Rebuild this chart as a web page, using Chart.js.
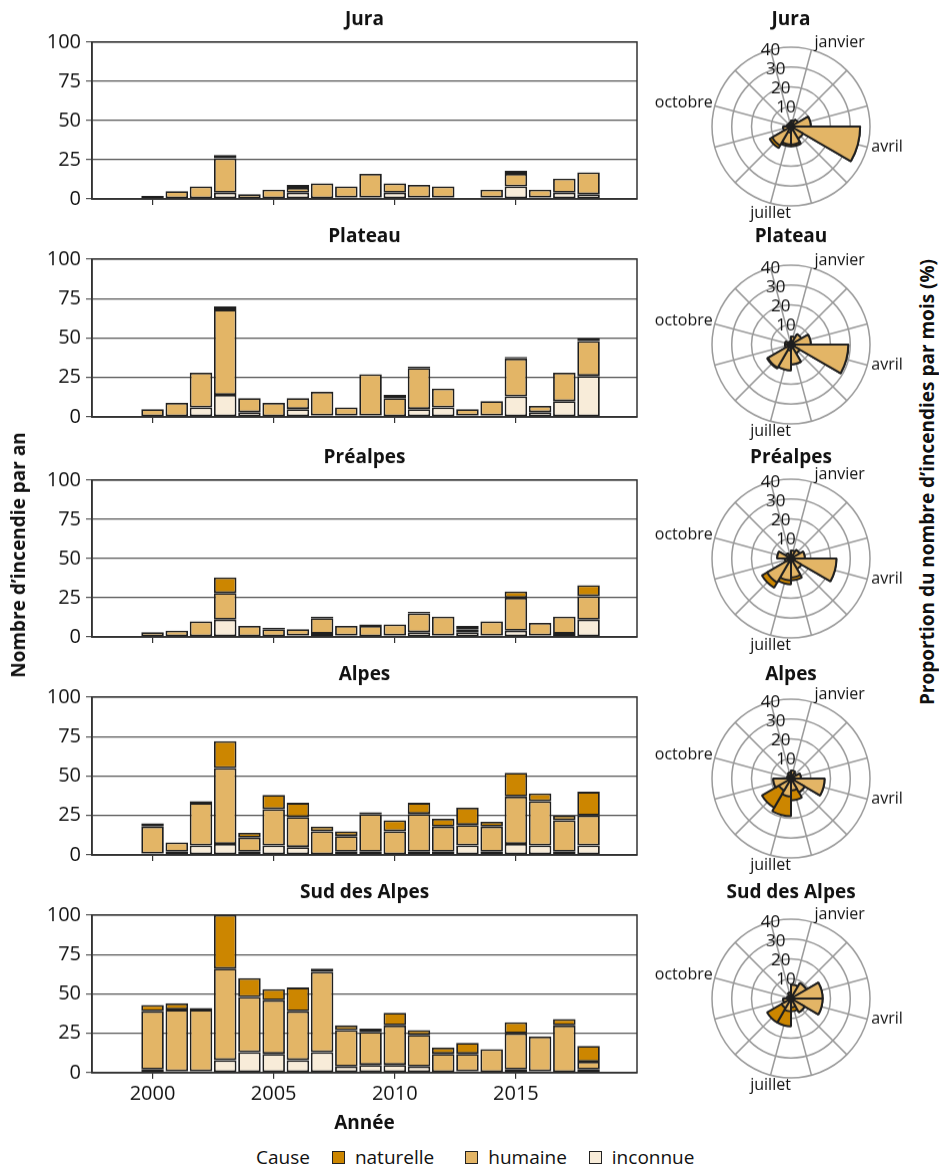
<!DOCTYPE html>
<html lang="fr">
<head>
<meta charset="utf-8">
<title>Incendies de forêt par région</title>
<script src="https://cdn.jsdelivr.net/npm/chart.js@4.4.1/dist/chart.umd.min.js"></script>
<style>
  body { margin: 0; background: #fff; }
  #page { position: relative; width: 939px; height: 1171px; overflow: hidden; font-family: "Open Sans", sans-serif; color: #111; }
  #page canvas { position: absolute; }
  .axisTitle { position: absolute; z-index: 2; font-weight: bold; font-size: 19px; white-space: nowrap; transform: translate(-50%, -50%) rotate(-90deg); }
  #legend { position: absolute; z-index: 2; left: 256px; top: 1144px; display: flex; align-items: center; font-size: 19px; }
  #legend .item { display: flex; align-items: center; margin-left: 22px; }
  #legend .box { width: 11px; height: 11px; border: 1.5px solid #222; margin-right: 10px; }
</style>
</head>
<body>
<div id="page">
  <div class="axisTitle" style="left:18px;top:555px">Nombre d’incendie par an</div>
  <div class="axisTitle" style="left:927px;top:482px">Proportion du nombre d’incendies par mois (%)</div>
  <div id="legend"><span>Cause</span></div>
</div>
<script>
// --- données ---
const years = [2000, 2001, 2002, 2003, 2004, 2005, 2006, 2007, 2008, 2009, 2010, 2011, 2012, 2013, 2014, 2015, 2016, 2017, 2018];
const xTicks = [2000, 2005, 2010, 2015];
const yTicks = [0, 25, 50, 75, 100];
const rTicks = [0, 10, 20, 30, 40];
const months = ["janvier", "février", "mars", "avril", "mai", "juin", "juillet", "août", "septembre", "octobre", "novembre", "décembre"];
const shownMonths = ["janvier", "avril", "juillet", "octobre"];
const regions = ["Jura", "Plateau", "Préalpes", "Alpes", "Sud des Alpes"];
const causes = ["naturelle", "humaine", "inconnue"];
const causeColors = ["#cc8600", "#e3b566", "#f8ecd9"];

// nombre d'incendies par an
const juraInconnue = [0, 0, 0, 4, 0, 0, 4, 0, 1, 1, 4, 1, 1, null, 1, 8, 1, 4, 3];
const juraHumaine = [2, 5, 8, 22, 3, 6, 3, 10, 7, 15, 6, 8, 7, null, 5, 8, 5, 9, 14];
const juraNaturelle = [0, 0, 0, 2, 0, 0, 2, 0, 0, 0, 0, 0, 0, null, 0, 2, 0, 0, 0];

const plateauInconnue = [0, 0, 6, 14, 3, 0, 5, 1, 1, 1, 0, 5, 6, 1, 1, 13, 3, 10, 26];
const plateauHumaine = [5, 9, 22, 54, 9, 9, 7, 15, 5, 26, 12, 26, 12, 4, 9, 24, 4, 18, 22];
const plateauNaturelle = [0, 0, 0, 2, 0, 0, 0, 0, 0, 0, 2, 1, 0, 0, 0, 1, 0, 0, 2];

const prealpesInconnue = [0, 0, 0, 11, 0, 0, 1, 2, 1, 0, 1, 3, 1, 3, 1, 4, 1, 2, 11];
const prealpesHumaine = [3, 4, 10, 17, 7, 5, 4, 10, 6, 7, 7, 12, 12, 2, 9, 21, 8, 11, 15];
const prealpesNaturelle = [0, 0, 0, 10, 0, 1, 0, 1, 0, 1, 0, 1, 0, 2, 0, 4, 0, 0, 7];

const alpesInconnue = [1, 2, 6, 7, 2, 6, 5, 0, 2, 2, 0, 2, 2, 6, 2, 7, 6, 2, 6];
const alpesHumaine = [17, 6, 27, 48, 9, 23, 19, 15, 10, 24, 15, 24, 16, 13, 16, 30, 28, 20, 19];
const alpesNaturelle = [2, 0, 1, 17, 3, 9, 9, 3, 3, 1, 7, 7, 5, 11, 3, 15, 5, 3, 15];

const sudInconnue = [2, 1, 1, 8, 13, 12, 8, 13, 4, 5, 5, 4, 0, 1, 0, 2, 1, 0, 2];
const sudHumaine = [37, 39, 39, 58, 35, 34, 31, 51, 23, 21, 25, 20, 12, 11, 15, 23, 22, 30, 5];
const sudNaturelle = [4, 4, 1, 34, 12, 7, 15, 2, 3, 2, 8, 3, 4, 7, 0, 7, 0, 4, 10];

// proportion par mois (%)
const juraMoisInconnue = [0.5, 0.5, 1, 1, 1, 2, 3, 1, 1, 0.5, 0.5, 0.5];
const juraMoisHumaine = [2.5, 3.5, 9, 34, 6, 7, 6, 10, 3, 1.5, 1, 1.5];
const juraMoisNaturelle = [0, 0, 0, 0, 0, 1, 1, 1.5, 0, 0, 0, 0];

const plateauMoisInconnue = [0.5, 1, 1, 2, 1, 2, 3, 2, 0.5, 0.5, 0.5, 0.5];
const plateauMoisHumaine = [3.5, 5, 9, 27, 4, 8, 10, 11.5, 2.5, 2.5, 1, 1];
const plateauMoisNaturelle = [0, 0, 0, 0, 0, 0, 0, 0.5, 0, 0, 0, 0];

const prealpesMoisInconnue = [0.5, 0.5, 1, 2, 1, 1.5, 2, 2, 0.5, 1, 0.5, 0.5];
const prealpesMoisHumaine = [3.5, 4.5, 6, 21, 5, 8, 9, 12, 2.5, 6, 2.5, 0.5];
const prealpesMoisNaturelle = [0, 0, 0, 0, 0, 1.5, 2, 3, 0, 0, 0, 0];

const alpesMoisInconnue = [1, 0.5, 1, 2, 1, 1, 1, 1, 1, 0.5, 0.5, 0.5];
const alpesMoisHumaine = [3, 2.5, 4, 15, 7, 5, 8, 6, 8, 1.5, 1.5, 2.5];
const alpesMoisNaturelle = [0, 0, 0, 0, 0, 5, 10, 10, 0, 0, 0, 0];

const sudMoisInconnue = [1, 1, 1, 1, 1, 0.5, 0.5, 0.5, 0.5, 0.5, 0.5, 0.5];
const sudMoisHumaine = [6, 8, 15, 15, 7, 4, 6, 5, 3.5, 1.5, 0.5, 2.5];
const sudMoisNaturelle = [0, 0, 0, 0, 0, 2, 7.5, 8.5, 0, 0, 0, 0];

const yearly = [
  [juraNaturelle, juraHumaine, juraInconnue],
  [plateauNaturelle, plateauHumaine, plateauInconnue],
  [prealpesNaturelle, prealpesHumaine, prealpesInconnue],
  [alpesNaturelle, alpesHumaine, alpesInconnue],
  [sudNaturelle, sudHumaine, sudInconnue]
];
const monthly = [
  [juraMoisNaturelle, juraMoisHumaine, juraMoisInconnue],
  [plateauMoisNaturelle, plateauMoisHumaine, plateauMoisInconnue],
  [prealpesMoisNaturelle, prealpesMoisHumaine, prealpesMoisInconnue],
  [alpesMoisNaturelle, alpesMoisHumaine, alpesMoisInconnue],
  [sudMoisNaturelle, sudMoisHumaine, sudMoisInconnue]
];

// --- mise en page ---
const plotTops = [42, 259, 480, 697, 915];
const plotBottoms = [199, 417, 637, 855, 1073];
const polarCenters = [127, 345, 559, 779, 999];
const titleBlock = 33.8;
const ink = "#111";
const edge = "#1f1f1f";

Chart.defaults.font.family = '"Open Sans", sans-serif';
Chart.defaults.color = ink;

function addCanvas(left, top, width, height) {
  let canvas = document.createElement("canvas");
  canvas.width = width;
  canvas.height = height;
  canvas.style.left = left + "px";
  canvas.style.top = top + "px";
  canvas.style.width = width + "px";
  canvas.style.height = height + "px";
  document.getElementById("page").appendChild(canvas);
  return canvas;
}

const plotFrame = {
  id: "plotFrame",
  afterDatasetsDraw(chart) {
    const { ctx, chartArea: { left, top, right, bottom } } = chart;
    ctx.save();
    ctx.strokeStyle = "#333";
    ctx.lineWidth = 1.5;
    ctx.strokeRect(left, top, right - left, bottom - top);
    ctx.restore();
  }
};

const monthPlacement = {
  janvier: { align: "left", dx: 3, dy: -7 },
  avril: { align: "left", dx: 4, dy: 0 },
  juillet: { align: "center", dx: 0, dy: 10 },
  octobre: { align: "right", dx: -2, dy: -3 }
};

const polarGrid = {
  id: "polarGrid",
  beforeDatasetsDraw(chart) {
    const scale = chart.scales.r;
    const ctx = chart.ctx;
    ctx.save();
    ctx.strokeStyle = "#9a9a9a";
    ctx.lineWidth = 1.5;
    months.forEach((month, index) => {
      const end = scale.getPointPosition(index + 0.5, scale.drawingArea);
      ctx.beginPath();
      ctx.moveTo(scale.xCenter, scale.yCenter);
      ctx.lineTo(end.x, end.y);
      ctx.stroke();
    });
    ctx.restore();
  },
  afterDatasetsDraw(chart) {
    const scale = chart.scales.r;
    const ctx = chart.ctx;
    ctx.save();
    ctx.fillStyle = ink;
    ctx.textBaseline = "middle";
    ctx.textAlign = "center";
    ctx.font = '17px "Open Sans", sans-serif';
    rTicks.slice(1).forEach((value) => {
      const spot = scale.getPointPosition(-0.5, scale.getDistanceFromCenterForValue(value));
      ctx.fillText(String(value), spot.x, spot.y);
    });
    ctx.font = '16px "Open Sans", sans-serif';
    shownMonths.forEach((month) => {
      const place = monthPlacement[month];
      const end = scale.getPointPosition(months.indexOf(month) + 0.5, scale.drawingArea);
      ctx.textAlign = place.align;
      ctx.fillText(month, end.x + place.dx, end.y + place.dy);
    });
    ctx.restore();
  }
};

regions.forEach((region, index) => {
  const isLast = index === regions.length - 1;
  const xAxisHeight = isLast ? 68 : 10;
  const canvasTop = plotTops[index] - titleBlock;

  // histogramme annuel
  let barCanvas = addCanvas(0, canvasTop, 650, plotBottoms[index] - canvasTop + xAxisHeight);
  new Chart(barCanvas, {
    type: "bar",
    data: {
      labels: years,
      datasets: [2, 1, 0].map((c) => ({
        label: causes[c],
        data: yearly[index][c],
        backgroundColor: causeColors[c]
      }))
    },
    options: {
      responsive: false,
      animation: false,
      layout: { padding: { left: 0, right: 13, top: 0, bottom: 0 } },
      datasets: {
        bar: { borderColor: edge, borderWidth: 1.8, borderSkipped: false, barPercentage: 0.93, categoryPercentage: 1 }
      },
      plugins: {
        legend: { display: false },
        tooltip: { enabled: false },
        title: { display: true, text: region, fullSize: false, color: ink, font: { size: 19, weight: "bold" }, padding: { top: 0, bottom: 11 } }
      },
      scales: {
        x: {
          type: "linear",
          stacked: true,
          offset: false,
          min: 1997.5,
          max: 2020,
          afterBuildTicks: (scale) => { scale.ticks = xTicks.map((v) => ({ value: v })); },
          afterFit: (scale) => { scale.height = xAxisHeight; },
          grid: { offset: false, drawOnChartArea: false, tickLength: 6, color: "#333", lineWidth: 1.2 },
          border: { color: "#333", width: 1.5 },
          ticks: { display: isLast, padding: 3, color: ink, font: { size: 20 }, callback: (v) => String(v) },
          title: { display: isLast, text: "Année", color: ink, font: { size: 19, weight: "bold" }, padding: 6 }
        },
        y: {
          stacked: true,
          min: 0,
          max: 100,
          afterBuildTicks: (scale) => { scale.ticks = yTicks.map((v) => ({ value: v })); },
          afterFit: (scale) => {
            scale.width = 92;
            scale.paddingTop = 0;
            scale.paddingBottom = 0;
          },
          grid: { color: "#555", lineWidth: 1.2, tickLength: 6 },
          border: { color: "#333", width: 1.5 },
          ticks: { padding: 5, color: ink, font: { size: 20 } }
        }
      }
    },
    plugins: [plotFrame]
  });

  // rose mensuelle
  const [moisNat, moisHum, moisInc] = monthly[index];
  const cumulInconnue = moisInc.slice();
  const cumulHumaine = moisInc.map((v, i) => v + moisHum[i]);
  const cumulTotal = moisInc.map((v, i) => v + moisHum[i] + moisNat[i]);
  const titlePadBottom = polarCenters[index] - 80 - canvasTop - 22.8;
  let polarCanvas = addCanvas(650, canvasTop, 260, polarCenters[index] + 80 - canvasTop + 36);
  new Chart(polarCanvas, {
    type: "polarArea",
    data: {
      labels: months,
      datasets: [
        { label: "inconnue", data: cumulInconnue, backgroundColor: causeColors[2] },
        { label: "humaine", data: cumulHumaine, backgroundColor: causeColors[1] },
        { label: "naturelle", data: cumulTotal, backgroundColor: causeColors[0] }
      ]
    },
    options: {
      responsive: false,
      animation: false,
      layout: { padding: { left: 61, right: 39, top: 0, bottom: 36 } },
      elements: { arc: { borderColor: edge, borderWidth: 2 } },
      plugins: {
        legend: { display: false },
        tooltip: { enabled: false },
        title: { display: true, text: region, fullSize: false, color: ink, font: { size: 19, weight: "bold" }, padding: { top: 0, bottom: titlePadBottom } }
      },
      scales: {
        r: {
          min: 0,
          max: 40,
          afterBuildTicks: (scale) => { scale.ticks = rTicks.map((v) => ({ value: v })); },
          ticks: { display: false },
          grid: { circular: true, color: "#9a9a9a", lineWidth: 1.5 },
          angleLines: { display: false },
          pointLabels: { display: false }
        }
      }
    },
    plugins: [polarGrid]
  });
});

// légende
const legendGaps = [22, 31, 22];
causes.forEach((cause, c) => {
  let item = document.createElement("span");
  item.className = "item";
  item.style.marginLeft = legendGaps[c] + "px";
  let box = document.createElement("span");
  box.className = "box";
  box.style.background = causeColors[c];
  item.appendChild(box);
  item.appendChild(document.createTextNode(cause));
  document.getElementById("legend").appendChild(item);
});
</script>
</body>
</html>
